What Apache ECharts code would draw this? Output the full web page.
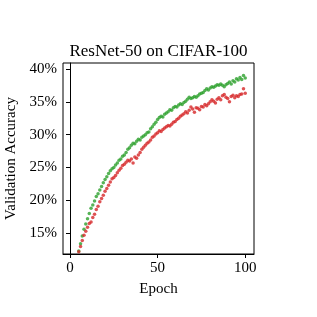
<!DOCTYPE html>
<html>
<head>
<meta charset="utf-8">
<script src="https://cdn.jsdelivr.net/npm/echarts@6/dist/echarts.min.js"></script>
<style>html,body{margin:0;padding:0;background:#fff}#c{width:317px;height:317px}</style>
</head>
<body>
<div id="c"></div>
<script>
const startEpoch = 5;
const greenAcc = [12.3,13.4,14.6,15.6,16.4,17.2,18.0,18.8,19.3,19.9,20.6,21.0,21.6,22.1,22.7,23.2,23.6,24.1,24.5,24.8,25.0,25.4,25.7,26.1,26.3,26.7,26.9,27.3,27.8,28.0,28.4,28.7,28.6,29.0,29.3,29.2,29.6,29.8,30.0,30.3,30.4,30.9,31.2,31.6,31.9,32.3,32.6,32.8,32.7,33.1,33.3,33.5,33.8,33.7,34.1,34.3,34.2,34.5,34.7,34.6,34.9,35.1,35.4,35.7,35.5,35.6,35.8,35.7,35.9,36.2,36.3,36.4,36.7,37.0,36.8,37.1,37.3,37.2,37.4,37.6,37.5,37.7,37.5,37.3,37.6,37.8,38.0,37.7,38.2,38.0,38.5,38.3,38.7,38.4,39.0,38.6];
const redAcc = [12.2,13.0,13.9,14.7,15.3,15.9,16.5,16.7,17.4,17.9,18.6,19.1,19.8,20.3,20.8,21.4,21.8,22.3,22.8,23.3,23.5,23.8,24.2,24.6,24.9,25.3,25.5,25.8,26.1,26.0,26.3,25.7,26.6,26.4,26.9,27.3,27.8,28.1,28.4,28.7,28.9,29.2,29.6,29.8,30.1,30.3,30.6,30.5,30.8,31.0,31.2,31.4,31.3,31.6,31.9,32.0,32.3,32.5,32.8,33.0,33.2,33.5,33.3,33.7,34.2,33.9,33.4,34.1,34.0,33.8,34.3,34.2,34.6,34.4,34.7,35.0,35.3,35.1,34.8,35.4,35.6,35.3,35.9,36.1,35.7,35.5,35.0,35.8,36.0,35.6,35.9,35.8,36.1,36.2,37.0,36.3];
const yTicks = [15,20,25,30,35,40];
const xTicks = [0,50,100];

const toPts = arr => arr.map((v,i)=>[startEpoch+i, v]);
const font = 'Liberation Serif, Times New Roman, serif';
const chart = echarts.init(document.getElementById('c'));
chart.setOption({
  animation:false,
  backgroundColor:'#fff',
  title:{text:'ResNet-50 on CIFAR-100', left:'center', top:38,
    textStyle:{fontFamily:font, fontSize:17, fontWeight:'normal', color:'#000'}},
  grid:{left:63, right:63, top:63, bottom:63, containLabel:false, outerBoundsMode:'none',
    show:true, borderColor:'#000', borderWidth:1, backgroundColor:'transparent'},
  xAxis:{type:'value', min:-4, max:105,
    name:'Epoch', nameLocation:'middle', nameGap:28,
    nameTextStyle:{fontFamily:font, fontSize:15, color:'#000'},
    axisLine:{show:true, lineStyle:{color:'#000', width:1}},
    axisTick:{show:true, length:4, customValues:xTicks, lineStyle:{color:'#000'}},
    axisLabel:{customValues:xTicks, fontFamily:font, fontSize:15, color:'#000', margin:7},
    splitLine:{show:false}},
  yAxis:{type:'value', min:11.85, max:40.9,
    name:'Validation Accuracy', nameLocation:'middle', nameGap:42,
    nameTextStyle:{fontFamily:font, fontSize:15, color:'#000'},
    axisLine:{show:true, lineStyle:{color:'#000', width:1}},
    axisTick:{show:true, length:4, customValues:yTicks, lineStyle:{color:'#000'}},
    axisLabel:{customValues:yTicks, fontFamily:font, fontSize:15, color:'#000', margin:6,
      formatter: v => v + '%'},
    splitLine:{show:false}},
  series:[
    {type:'scatter', data:toPts(greenAcc), symbol:'circle', symbolSize:3.5,
      itemStyle:{color:'#2ca02c'}, clip:true},
    {type:'scatter', data:toPts(redAcc), symbol:'circle', symbolSize:3.5,
      itemStyle:{color:'#d62728'}, clip:true}
  ]
});
</script>
</body>
</html>
